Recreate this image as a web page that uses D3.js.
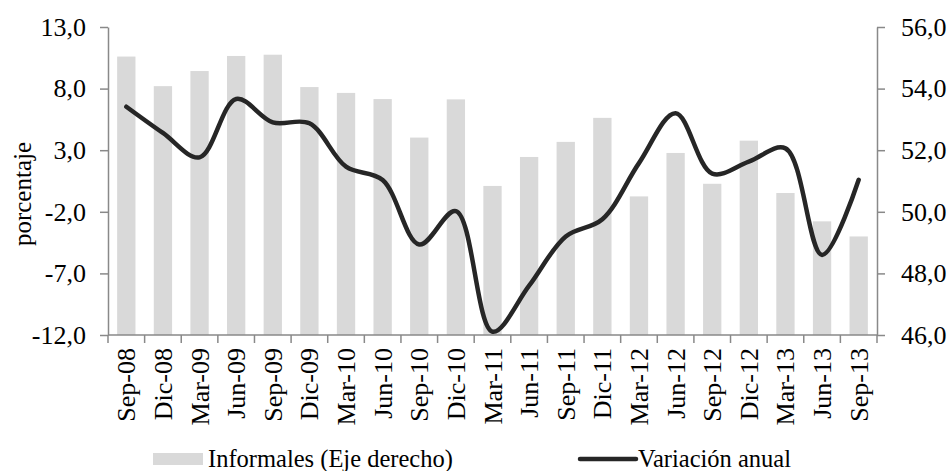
<!DOCTYPE html>
<html>
<head>
<meta charset="utf-8">
<script src="https://cdn.jsdelivr.net/npm/d3@7"></script>
<style>
  body { margin: 0; background: #fff; }
  text { font-family: "Liberation Serif", "Times New Roman", serif; fill: #000; }
</style>
</head>
<body>
<svg id="chart" width="949" height="471"></svg>
<script>
var categories = ["Sep-08","Dic-08","Mar-09","Jun-09","Sep-09","Dic-09","Mar-10","Jun-10","Sep-10","Dic-10",
  "Mar-11","Jun-11","Sep-11","Dic-11","Mar-12","Jun-12","Sep-12","Dic-12","Mar-13","Jun-13","Sep-13"];
// bars, right axis
var informales = [55.04, 54.08, 54.57, 55.06, 55.1, 54.05, 53.86, 53.66, 52.41, 53.65,
  50.84, 51.78, 52.27, 53.05, 50.5, 51.91, 50.91, 52.31, 50.61, 49.69, 49.2];
// line, left axis
var variacion = [6.53, 4.4, 2.42, 7.16, 5.26, 5.18, 1.66, 0.58, -4.65, -1.94,
  -11.73, -8.0, -4.0, -2.6, 1.95, 6.0, 1.1, 2.07, 3.15, -5.5, 0.6];
var leftTicks = [-12, -7, -2, 3, 8, 13];
var rightTicks = [46, 48, 50, 52, 54, 56];

var svg = d3.select("#chart");
var plotLeft = 108, plotRight = 877, plotTop = 27, plotBottom = 335;
var axisColor = "#898989";
var fmt = function(d){ return d.toFixed(1).replace(".", ","); };

var x = d3.scaleBand()
  .domain(categories)
  .range([plotLeft, plotRight])
  .paddingInner(0.5)
  .paddingOuter(0.25);
var yL = d3.scaleLinear().domain([-12, 13]).range([plotBottom, plotTop]);
var yR = d3.scaleLinear().domain([46, 56]).range([plotBottom, plotTop]);

// bars
svg.append("g")
  .selectAll("rect")
  .data(informales)
  .enter()
  .append("rect")
  .attr("x", function(d, i){ return x(categories[i]); })
  .attr("y", function(d){ return yR(d); })
  .attr("width", x.bandwidth())
  .attr("height", function(d){ return plotBottom - yR(d); })
  .attr("fill", "#d9d9d9");

// axes
function styleAxis(g){
  g.attr("font-family", "'Liberation Serif', 'Times New Roman', serif");
  g.selectAll("path, line").attr("stroke", axisColor).attr("stroke-width", 1.5);
  g.selectAll("text").attr("font-size", 26).attr("fill", "#000");
}
svg.append("g")
  .attr("transform", "translate(" + plotLeft + ",0)")
  .call(d3.axisLeft(yL).tickValues(leftTicks).tickFormat(fmt).tickSize(8).tickSizeOuter(0).tickPadding(14))
  .call(styleAxis);
svg.append("g")
  .attr("transform", "translate(" + plotRight + ",0)")
  .call(d3.axisRight(yR).tickValues(rightTicks).tickFormat(fmt).tickSize(8).tickSizeOuter(0).tickPadding(16))
  .call(styleAxis);

// x axis: ticks at category boundaries
var xg = svg.append("g");
xg.append("line")
  .attr("x1", plotLeft).attr("x2", plotRight)
  .attr("y1", plotBottom).attr("y2", plotBottom)
  .attr("stroke", axisColor).attr("stroke-width", 1.5);
var bounds = d3.range(categories.length + 1);
xg.selectAll("line.tick")
  .data(bounds)
  .enter()
  .append("line")
  .attr("class", "tick")
  .attr("x1", function(i){ return plotLeft + i * x.step(); })
  .attr("x2", function(i){ return plotLeft + i * x.step(); })
  .attr("y1", plotBottom).attr("y2", plotBottom + 8)
  .attr("stroke", axisColor).attr("stroke-width", 1.5);
xg.selectAll("text")
  .data(categories)
  .enter()
  .append("text")
  .attr("transform", function(d){
    return "translate(" + (x(d) + x.bandwidth() / 2 + 9) + "," + (plotBottom + 13) + ") rotate(-90)";
  })
  .attr("text-anchor", "end")
  .attr("font-size", 26)
  .text(function(d){ return d; });

// line
var line = d3.line()
  .x(function(d, i){ return x(categories[i]) + x.bandwidth() / 2; })
  .y(function(d){ return yL(d); })
  .curve(d3.curveCatmullRom.alpha(0.5));
svg.append("path")
  .datum(variacion)
  .attr("d", line)
  .attr("fill", "none")
  .attr("stroke", "#262626")
  .attr("stroke-width", 4.5)
  .attr("stroke-linecap", "round");

// y label
svg.append("text")
  .attr("transform", "translate(31,194) rotate(-90)")
  .attr("text-anchor", "middle")
  .attr("font-size", 25)
  .text("porcentaje");

// legend
svg.append("rect")
  .attr("x", 153).attr("y", 453).attr("width", 50).attr("height", 12)
  .attr("fill", "#d9d9d9");
svg.append("text")
  .attr("x", 208).attr("y", 467)
  .attr("font-size", 24.5)
  .text("Informales (Eje derecho)");
svg.append("line")
  .attr("x1", 580).attr("x2", 636).attr("y1", 459).attr("y2", 459)
  .attr("stroke", "#262626").attr("stroke-width", 4.5)
  .attr("stroke-linecap", "round");
svg.append("text")
  .attr("x", 638).attr("y", 467)
  .attr("font-size", 24.5)
  .text("Variación anual");
</script>
</body>
</html>
